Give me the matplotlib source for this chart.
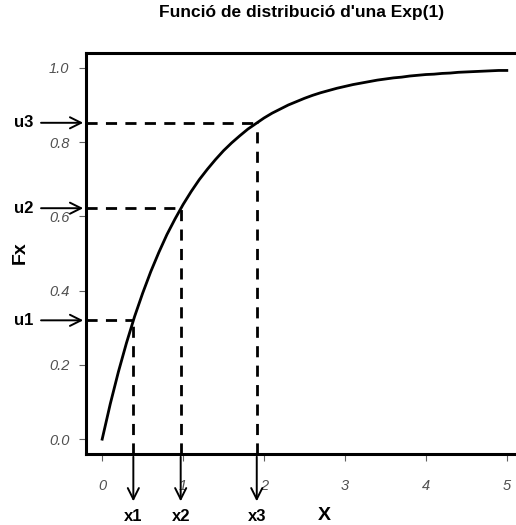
import matplotlib
matplotlib.use("Agg")
import matplotlib.pyplot as plt

plt.rcParams['font.family'] = ['Liberation Sans', 'DejaVu Sans']

# exponential cdf, step 0.1
xs = [i / 10 for i in range(51)]
fx = [0.000, 0.095, 0.181, 0.259, 0.330, 0.393, 0.451, 0.503, 0.551, 0.593,
      0.632, 0.667, 0.699, 0.727, 0.753, 0.777, 0.798, 0.817, 0.835, 0.850,
      0.865, 0.878, 0.889, 0.900, 0.909, 0.918, 0.926, 0.933, 0.939, 0.945,
      0.950, 0.955, 0.959, 0.963, 0.967, 0.970, 0.973, 0.975, 0.978, 0.980,
      0.982, 0.983, 0.985, 0.986, 0.988, 0.989, 0.990, 0.991, 0.992, 0.993,
      0.993]

# the three marked points
u_vals = [0.32, 0.622, 0.852]
x_vals = [0.385, 0.97, 1.91]
u_labels = ['u1', 'u2', 'u3']
x_labels = ['x1', 'x2', 'x3']

xticks = [0, 1, 2, 3, 4, 5]
yticks = [0.0, 0.2, 0.4, 0.6, 0.8, 1.0]

fig = plt.figure(figsize=(5.16, 5.25), dpi=100)
ax = fig.add_axes([86/516, 1-454/525, 437/516, 401/525])
ax.set_xlim(-0.2, 5.2)
ax.set_ylim(-0.04, 1.04)

ax.plot(xs, fx, color='black', lw=2.0)

for u, x in zip(u_vals, x_vals):
    ax.plot([-0.2, x], [u, u], color='black', lw=2, linestyle=(0, (4, 3)))
    ax.plot([x, x], [-0.04, u], color='black', lw=2, linestyle=(0, (4, 3)))

arrow = dict(arrowstyle='->', lw=1.4, color='black', mutation_scale=20)

# arrows from the left margin into the y axis
for u, lab in zip(u_vals, u_labels):
    ax.annotate('', xy=(-0.2, u), xytext=(-0.79, u), arrowprops=arrow,
                annotation_clip=False)
    ax.text(-0.85, u, lab, ha='right', va='center', fontsize=12, fontweight='bold')

# arrows from the x axis down to the labels
for x, lab in zip(x_vals, x_labels):
    ax.annotate('', xy=(x, -0.175), xytext=(x, -0.04), arrowprops=arrow,
                annotation_clip=False)
    ax.text(x, -0.207, lab, ha='center', va='center', fontsize=12, fontweight='bold')

ax.text(2.75, -0.205, 'X', ha='center', va='center', fontsize=14, fontweight='bold')
fig.text(20/516, 1-253/525, 'Fx', rotation=90, ha='center', va='center',
         fontsize=14, fontweight='bold')
fig.text(302/516, 1-13/525, "Funció de distribució d'una Exp(1)", ha='center', va='center',
         fontsize=12.5, fontweight='bold')

ax.set_xticks(xticks)
ax.set_xticklabels([str(t) for t in xticks], fontstyle='italic')
ax.set_yticks(yticks)
ax.set_yticklabels(['%.1f' % t for t in yticks], fontstyle='italic')
ax.tick_params(axis='both', colors='#606060', labelcolor='#505050', labelsize=10.5,
               length=5, width=0.8)
ax.tick_params(axis='x', pad=13)
ax.tick_params(axis='y', pad=7)

for s in ax.spines.values():
    s.set_linewidth(2.2)
    s.set_color('black')

fig.savefig('out.png', dpi=100)
